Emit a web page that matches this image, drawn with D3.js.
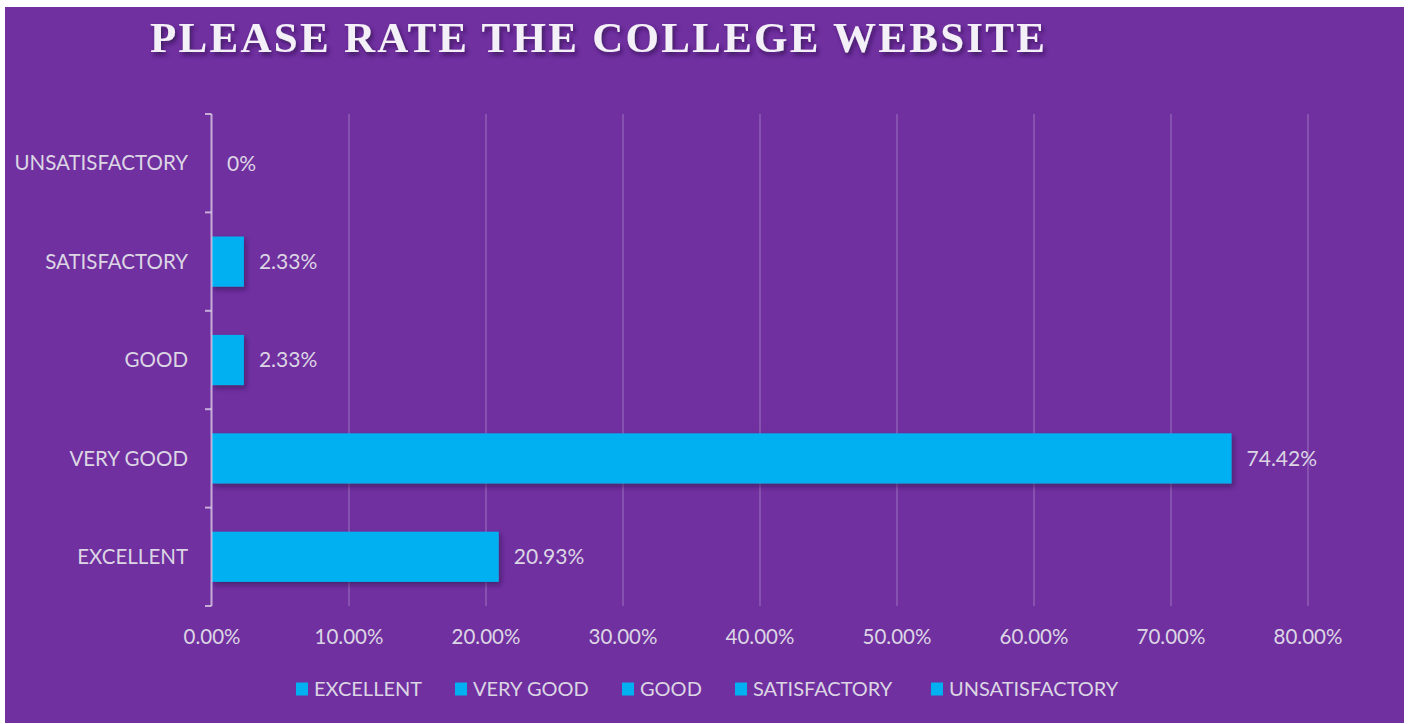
<!DOCTYPE html>
<html><head><meta charset="utf-8">
<script src="https://cdn.jsdelivr.net/npm/d3@7"></script>
<style>html,body{margin:0;padding:0;background:#fff;}svg{display:block;}</style>
</head><body>
<script>
const categories = ["EXCELLENT","VERY GOOD","GOOD","SATISFACTORY","UNSATISFACTORY"];
const values = [20.93, 74.42, 2.33, 2.33, 0];
const valueLabels = ["20.93%","74.42%","2.33%","2.33%","0%"];
const xTicks = [0,10,20,30,40,50,60,70,80];
const titleText = "PLEASE RATE THE COLLEGE WEBSITE";

(function(){
const W = 1409, H = 724;
const svg = d3.select("body").append("svg").attr("width", W).attr("height", H);
const defs = svg.append("defs");
const sh = defs.append("filter").attr("id","sh").attr("x","-10%").attr("y","-50%").attr("width","130%").attr("height","220%");
sh.append("feDropShadow").attr("dx",2).attr("dy",3).attr("stdDeviation",2.5).attr("flood-color","#2a0a45").attr("flood-opacity",0.55);
const tsh = defs.append("filter").attr("id","tsh").attr("x","-5%").attr("y","-30%").attr("width","110%").attr("height","170%");
tsh.append("feDropShadow").attr("dx",2).attr("dy",3).attr("stdDeviation",2).attr("flood-color","#2a0a45").attr("flood-opacity",0.7);

svg.append("rect").attr("x",5).attr("y",7).attr("width",1399).attr("height",716).attr("fill","#7030A0");

const pL = 212, pR = 1308, pT = 114, pB = 606;
const x = d3.scaleLinear().domain([0,80]).range([pL,pR]);
const y = d3.scaleBand().domain(categories.slice().reverse()).range([pT,pB]).paddingInner(0.49).paddingOuter(0.245);
const yb = d3.scaleBand().domain(categories.slice().reverse()).range([pT,pB]);

const textColor = "#DCD6E4";
const font = "Lato, 'Open Sans', sans-serif";

svg.append("g").selectAll("line").data(xTicks.filter(d=>d>0)).join("line")
  .attr("x1",d=>x(d)).attr("x2",d=>x(d)).attr("y1",pT).attr("y2",pB)
  .attr("stroke","rgba(255,255,255,0.22)").attr("stroke-width",1.5);

svg.append("g").selectAll("text").data(xTicks).join("text")
  .attr("x",d=>x(d)).attr("y",644).attr("text-anchor","middle")
  .attr("font-family",font).attr("font-size",20.5).attr("fill",textColor)
  .text(d=>d.toFixed(2)+"%");

const data = categories.map((c,i)=>({c, v:values[i], l:valueLabels[i]}));
svg.append("g").selectAll("rect").data(data.filter(d=>d.v>0)).join("rect")
  .attr("x",x(0)).attr("y",d=>y(d.c)).attr("width",d=>x(d.v)-x(0)).attr("height",y.bandwidth())
  .attr("fill","#00B0F0").attr("filter","url(#sh)");

const ax = svg.append("g").attr("stroke","rgba(225,215,235,0.75)").attr("stroke-width",2).attr("fill","none");
ax.append("line").attr("x1",pL-0.5).attr("x2",pL-0.5).attr("y1",pT).attr("y2",pB);
const bounds = yb.domain().map(d=>yb(d)).concat([pB]);
ax.selectAll("line.t").data(bounds).join("line").attr("class","t")
  .attr("x1",pL-7).attr("x2",pL-0.5).attr("y1",d=>d).attr("y2",d=>d);

svg.append("g").selectAll("text").data(categories).join("text")
  .attr("x",188).attr("y",d=>yb(d)+yb.bandwidth()/2).attr("dy","0.35em").attr("text-anchor","end")
  .attr("font-family",font).attr("font-size",20.5).attr("fill",textColor).text(d=>d);

svg.append("g").selectAll("text").data(data).join("text")
  .attr("x",d=>x(d.v)+15).attr("y",d=>yb(d.c)+yb.bandwidth()/2).attr("dy","0.35em")
  .attr("font-family",font).attr("font-size",21).attr("fill",textColor).text(d=>d.l);

svg.append("text").attr("x",150).attr("y",52).attr("textLength",895).attr("lengthAdjust","spacing")
  .attr("font-family","'Liberation Serif', 'DejaVu Serif', serif").attr("font-weight","bold").attr("font-size",43)
  .attr("fill","#F4F0F8").attr("filter","url(#tsh)").text(titleText);

const legX = [296, 455, 622, 735, 931];
const lg = svg.append("g").selectAll("g").data(categories).join("g")
  .attr("transform",(d,i)=>`translate(${legX[i]},689)`);
lg.append("rect").attr("x",0).attr("y",-6.5).attr("width",12).attr("height",13).attr("fill","#00B0F0");
lg.append("text").attr("x",18).attr("dy","0.35em").attr("font-family",font).attr("font-size",20)
  .attr("fill",textColor).text(d=>d);
})();
</script>
</body></html>
